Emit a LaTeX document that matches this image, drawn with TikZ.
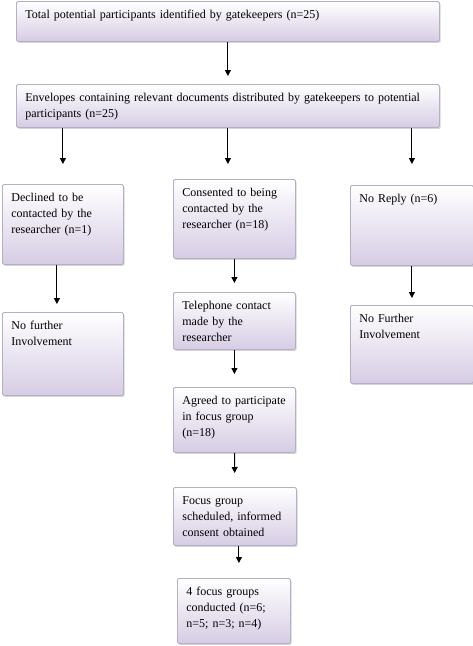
\documentclass[tikz,border=0pt]{standalone}
\usepackage{fontspec}
\setmainfont{Liberation Serif}
\usetikzlibrary{arrows.meta,shadows}
\definecolor{lav}{HTML}{D6CCE4}
\definecolor{edge}{HTML}{B4AFC6}
\newcommand\stagefont{\fontsize{12}{16}\selectfont\hyphenpenalty=10000\relax}
\tikzset{
  box/.style={draw=edge, line width=0.8pt, top color=white, bottom color=lav,
    rounded corners=1.5pt, anchor=north west, align=left,
    inner xsep=9pt, inner ysep=8pt, text height=9pt,
    font=\stagefont,
    drop shadow={shadow xshift=1.2pt, shadow yshift=-1.5pt, fill=gray!55, opacity=.6}},
  stage/.style 2 args={box, text width=#1, text depth=#2},
  arr/.style={line width=1pt, -{Triangle[length=6pt,width=6pt]}}
}
\begin{document}
\begin{tikzpicture}[x=1pt, y=-1pt]
\useasboundingbox (0,0) rectangle (473,646);
% boites
\node[stage={405pt}{15pt}] (tot) at (16,1) {Total potential participants identified by gatekeepers (n=25)};
\node[stage={405pt}{18pt}] (env) at (16,84) {Envelopes containing relevant documents distributed by gatekeepers to potential\\participants (n=25)};
% colonne gauche
\node[stage={103pt}{55pt}] (dec) at (2,184) {Declined to be\\contacted by the\\researcher (n=1)};
\node[stage={103pt}{58pt}] (nf1) at (2,312) {No further\\Involvement};
% colonne du milieu
\node[stage={104pt}{54pt}] (con) at (173,179) {Consented to being\\contacted by the\\researcher (n=18)};
\node[stage={104pt}{32pt}] (tel) at (173,292) {Telephone contact\\made by the\\researcher};
\node[stage={104pt}{40pt}] (agr) at (173,387) {Agreed to participate\\in focus group\\(n=18)};
\node[stage={105pt}{33pt}] (foc) at (173,487) {Focus group\\scheduled, informed\\consent obtained};
\node[stage={95pt}{40pt}] (four) at (177,578) {4 focus groups\\conducted (n=6;\\n=5; n=3; n=4)};
% colonne droite
\node[stage={105pt}{55pt}] (nr) at (350,185) {No Reply (n=6)};
\node[stage={105pt}{53pt}] (nf2) at (350,305) {No Further\\Involvement};
% fleches
\draw[arr, shorten >=8pt] (tot) -- (tot |- env.north);
\draw[arr, shorten >=20pt] (env.south -| dec) -- (dec.north);
\draw[arr, shorten >=15pt] (env) -- (env |- con.north);
\draw[arr, shorten >=21pt] (env.south -| nr) -- (nr.north);
\draw[arr, shorten >=8pt] ([xshift=-6pt]dec.south) -- ([xshift=-6pt]nf1.north);
\draw[arr, shorten >=9pt] (con) -- (tel);
\draw[arr, shorten >=13pt] (tel) -- (agr);
\draw[arr, shorten >=14pt] (agr) -- (foc);
\draw[arr, shorten >=15pt] ([xshift=4pt]foc.south) -- ([xshift=4pt]foc.south |- four.north);
\draw[arr, shorten >=7pt] (nr) -- (nf2);
\end{tikzpicture}
\end{document}
